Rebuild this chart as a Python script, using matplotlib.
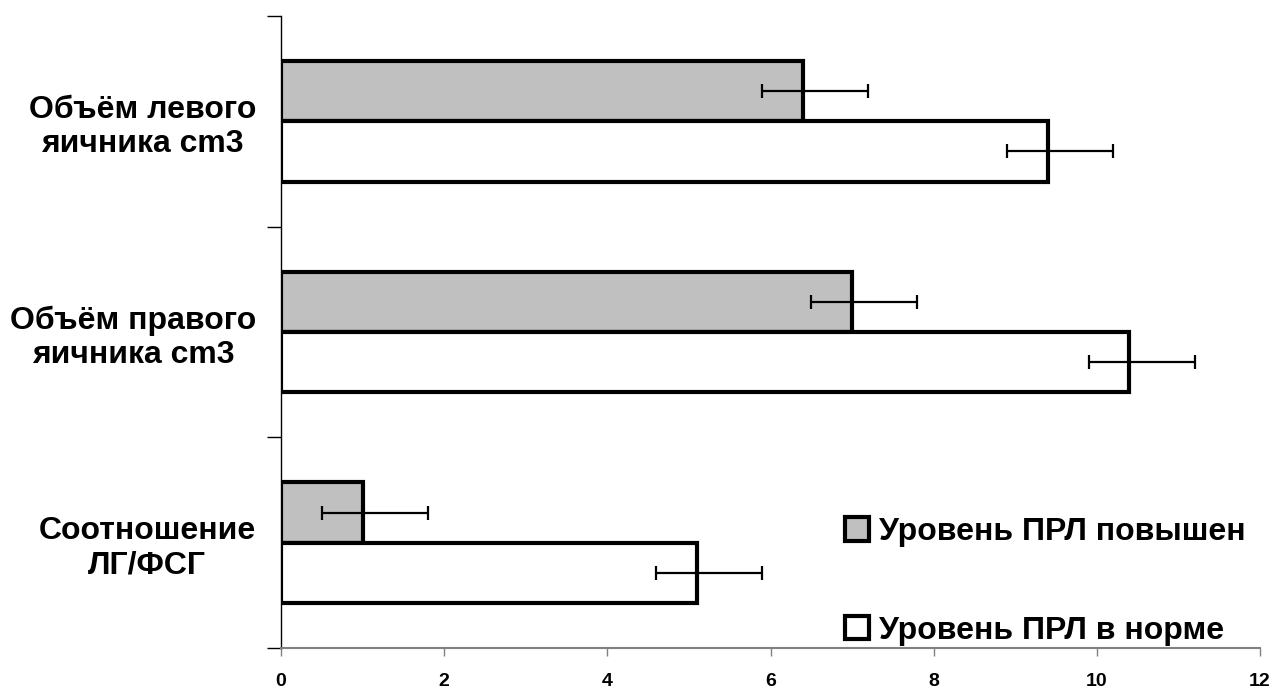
import numpy as np
import matplotlib
matplotlib.use("Agg")
from matplotlib import pyplot as plt
from matplotlib.patches import Patch

plt.rcParams['font.family'] = ['Liberation Sans', 'DejaVu Sans']
plt.rcParams['font.weight'] = 'bold'

categories = ["Соотношение\nЛГ/ФСГ", "Объём правого\nяичника cm3", "Объём левого\nяичника cm3"]
high_prl = [1.0, 7.0, 6.4]
norm_prl = [5.1, 10.4, 9.4]
err_minus = [0.5, 0.5, 0.5]
err_plus = [0.8, 0.8, 0.8]
series_names = ["Уровень ПРЛ повышен", "Уровень ПРЛ в норме"]
x_ticks = [0, 2, 4, 6, 8, 10, 12]

fig = plt.figure(figsize=(12.74, 6.89), dpi=100)
ax = fig.add_axes([281/1274, 41/689, 979/1274, 632/689])

y = np.arange(len(categories))
w = 1 / 3.5
err = [err_minus, err_plus]

ax.barh(y + w/2, high_prl, height=w, color="#c0c0c0", edgecolor="black", linewidth=3, zorder=2)
ax.barh(y - w/2, norm_prl, height=w, color="white", edgecolor="black", linewidth=3, zorder=2)
ax.errorbar(high_prl, y + w/2, xerr=err, fmt="none", ecolor="black", elinewidth=1.6, capsize=5, capthick=1.6, zorder=3)
ax.errorbar(norm_prl, y - w/2, xerr=err, fmt="none", ecolor="black", elinewidth=1.6, capsize=5, capthick=1.6, zorder=3)

ax.set_xlim(0, 12)
ax.set_ylim(-0.5, 2.5)
ax.set_xticks(x_ticks)
ax.set_xticklabels([str(t) for t in x_ticks], fontsize=14, fontweight="bold")
ax.tick_params(axis="x", direction="out", length=6, width=1, color="#808080", pad=12)

ax.set_yticks(y)
ax.set_yticklabels(categories, fontsize=23, fontweight="bold")
for lbl in ax.get_yticklabels():
    lbl.set_multialignment("center")
    lbl.set_linespacing(1.2)
ax.set_yticks([-0.5, 0.5, 1.5, 2.5], minor=True)
ax.tick_params(axis="y", which="major", length=0, pad=18)
ax.tick_params(axis="y", which="minor", direction="out", length=10, width=1, color="black")

ax.spines["top"].set_visible(False)
ax.spines["right"].set_visible(False)
ax.spines["left"].set_linewidth(1)
ax.spines["bottom"].set_color("#808080")
ax.spines["bottom"].set_linewidth(1.5)

handles = [Patch(facecolor="#c0c0c0", edgecolor="black", linewidth=3),
           Patch(facecolor="white", edgecolor="black", linewidth=3)]
ax.legend(handles, series_names, loc="upper left", bbox_to_anchor=(845/1274, 1 - 517/689),
          bbox_transform=fig.transFigure, frameon=False,
          handlelength=0.75, handleheight=0.75, handletextpad=0.3, labelspacing=2.15,
          borderaxespad=0, borderpad=0, prop={"weight": "bold", "size": 23})

fig.savefig("out.png", dpi=100)
